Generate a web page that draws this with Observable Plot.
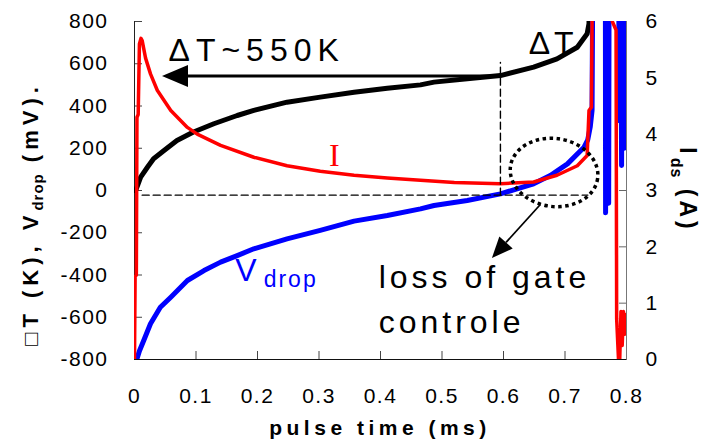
<!DOCTYPE html>
<html><head><meta charset="utf-8">
<script src="https://cdn.jsdelivr.net/npm/d3@7"></script>
<script src="https://cdn.jsdelivr.net/npm/@observablehq/plot@0.6"></script>
<style>
html,body{margin:0;padding:0;background:#fff;}
#chart svg{display:block;}
</style>
</head><body>
<div id="chart"></div>
<script>
// ---- tick labels ----
const xTicks = [0, 0.1, 0.2, 0.3, 0.4, 0.5, 0.6, 0.7, 0.8];
const yLeftTicks = [-800, -600, -400, -200, 0, 200, 400, 600, 800];
const yRightTicks = [0, 1, 2, 3, 4, 5, 6];

// ---- ΔT (K), black ----
const dTTime  = [0.000, 0.002, 0.010, 0.021, 0.031, 0.048, 0.069, 0.095, 0.129, 0.167, 0.194, 0.248, 0.302, 0.357, 0.411, 0.465, 0.487, 0.541, 0.595, 0.649, 0.687, 0.720, 0.736, 0.739, 0.742];
const dTValue = [0, 0, 63, 110, 150, 189, 237, 276, 316, 355, 379, 418, 442, 465, 484, 500, 513, 529, 544, 584, 623, 678, 742, 789, 1500];

// ---- I_ds (A), red, right axis ----
const iTime  = [0.000, 0.001, 0.003, 0.004, 0.006, 0.008, 0.0105, 0.0125, 0.018, 0.026, 0.037, 0.059, 0.086, 0.102, 0.140, 0.194, 0.248, 0.302, 0.357, 0.411, 0.465, 0.520, 0.595, 0.649, 0.687, 0.720, 0.736, 0.739, 0.743, 0.744, 0.745, 0.776, 0.777, 0.783, 0.784, 0.787, 0.789, 0.791, 0.793, 0.795, 0.797, 0.799, 0.800];
const iValue = [0.00, 1.47, 1.50, 4.30, 4.35, 5.60, 5.70, 5.66, 5.35, 5.07, 4.78, 4.42, 4.12, 4.00, 3.80, 3.59, 3.44, 3.34, 3.27, 3.22, 3.18, 3.14, 3.12, 3.15, 3.27, 3.44, 3.62, 4.42, 4.48, 6.00, 8.00, 8.00, 6.00, 5.85, 0.72, 0.00, 0.00, 0.85, 0.25, 0.85, 0.45, 0.80, 0.55];

// ---- V_drop (mV), blue ----
const vTime  = [0.000, 0.004, 0.008, 0.015, 0.026, 0.042, 0.059, 0.086, 0.113, 0.140, 0.167, 0.194, 0.248, 0.302, 0.357, 0.411, 0.465, 0.487, 0.541, 0.595, 0.622, 0.649, 0.676, 0.704, 0.731, 0.737, 0.741, 0.744, 0.746, 0.7655, 0.766, 0.7675, 0.768, 0.7695, 0.771, 0.772, 0.787, 0.788, 0.790, 0.792, 0.794, 0.796, 0.798];
const vValue = [-800, -797, -760, -710, -631, -553, -505, -426, -379, -339, -308, -276, -229, -189, -145, -118, -87, -71, -47, -16, 8, 32, 71, 126, 205, 240, 300, 379, 1500, 1500, -105, 1500, -30, 1500, -60, 1500, 1500, 330, 1500, 118, 1500, 200, 1500];

// ---- annotation anchors (data coordinates) ----
const zeroDashX = [0.0125, 0.737];       // horizontal dashed line, y = zeroDashY
const zeroDashY = -22;
const markDashX = 0.595;                 // vertical dashed line
const markDashY = [-22, 606];
const arrow550 = {x1: 0.595, y1: 540, x2: 0.0455, y2: 540};
const arrowGate = {x1: 0.660, y1: -71, x2: 0.582, y2: -322};
const gateEllipse = {x: 0.683, y: 83};

const annoText = ["\u0394T~550K", "\u0394T", "I", "V", "drop", "loss of gate", "controle"];
const annoX    = [0.0553, 0.641, 0.325, 0.164, 0.210, 0.397, 0.397];
const annoY    = [663, 696, 166, -378, -420, -411, -624];
const annoSpacing = [6, 4, 0, 0, 2, 4, 4];

// ---- scale helpers ----
const Y_MIN = -800, Y_MAX = 800, I_MAX = 6;
const ampToLeft = a => Y_MIN + a * (Y_MAX - Y_MIN) / I_MAX;
const leftToAmp = v => Math.round((v - Y_MIN) * I_MAX / (Y_MAX - Y_MIN));

const dT = dTTime.map((t, i) => ({t, v: dTValue[i]}));
const cur = iTime.map((t, i) => ({t, v: ampToLeft(iValue[i])}));
const vd = vTime.map((t, i) => ({t, v: vValue[i]}));

function arrowMark(a, {stroke = "black", width = 2, headLen = 20, headHalf = 8} = {}) {
  return (index, scales) => {
    const x1 = scales.x(a.x1), y1 = scales.y(a.y1), x2 = scales.x(a.x2), y2 = scales.y(a.y2);
    const ang = Math.atan2(y2 - y1, x2 - x1);
    const bx = x2 - headLen * Math.cos(ang), by = y2 - headLen * Math.sin(ang);
    const px = -Math.sin(ang), py = Math.cos(ang);
    const g = d3.create("svg:g");
    g.append("line").attr("x1", x1).attr("y1", y1).attr("x2", bx).attr("y2", by)
      .attr("stroke", stroke).attr("stroke-width", width);
    g.append("polygon")
      .attr("points", `${x2},${y2} ${bx + px * headHalf},${by + py * headHalf} ${bx - px * headHalf},${by - py * headHalf}`)
      .attr("fill", stroke);
    return g.node();
  };
}
function ellipseMark(c, rx, ry, rot) {
  return (index, scales) => {
    const cx = scales.x(c.x), cy = scales.y(c.y);
    return d3.create("svg:ellipse")
      .attr("cx", cx).attr("cy", cy).attr("rx", rx).attr("ry", ry)
      .attr("transform", `rotate(${rot},${cx},${cy})`)
      .attr("fill", "none").attr("stroke", "black").attr("stroke-width", 3.5)
      .attr("stroke-dasharray", "3.5,3.5").node();
  };
}

const sans = "'Liberation Sans', Arial, Helvetica, sans-serif";
const txt = (i, opts) => Plot.text([0], {x: () => annoX[i], y: () => annoY[i], text: () => annoText[i], lineAnchor: "middle", fontFamily: sans, ...opts});

const chart = Plot.plot({
  width: 704, height: 441,
  marginLeft: 134, marginRight: 78, marginTop: 21, marginBottom: 82,
  style: {fontFamily: sans, fontSize: "21px", color: "black", background: "white", letterSpacing: "1.5px"},
  x: {domain: [0, 0.8]},
  y: {domain: [Y_MIN, Y_MAX]},
  marks: [
    Plot.axisX({ticks: xTicks, tickSize: -8, tickPadding: 37, label: null, tickFormat: d => String(d), stroke: "#444"}),
    Plot.axisY({anchor: "left", ticks: yLeftTicks, tickSize: -8, tickPadding: 34, label: null, tickFormat: d => String(d), stroke: "#444"}),
    Plot.axisY({anchor: "right", ticks: yRightTicks.map(ampToLeft), tickSize: -8, tickPadding: 27, label: null, tickFormat: d => String(leftToAmp(d)), stroke: "#666"}),
    Plot.ruleX([0], {stroke: "#222"}),
    Plot.ruleX([0.8], {stroke: "#777"}),
    Plot.ruleY([Y_MIN], {stroke: "#111", strokeWidth: 1.2}),
    Plot.line(dT, {x: "t", y: "v", stroke: "black", strokeWidth: 5, clip: true}),
    Plot.line(vd, {x: "t", y: "v", stroke: "#0000ff", strokeWidth: 5, clip: true}),
    Plot.line(cur, {x: "t", y: "v", stroke: "#ff0000", strokeWidth: 3.5, clip: true}),
    Plot.line(zeroDashX.map(x => ({x, y: zeroDashY})), {x: "x", y: "y", stroke: "black", strokeWidth: 1.4, strokeDasharray: "7,4"}),
    Plot.line(markDashY.map(y => ({x: markDashX, y})), {x: "x", y: "y", stroke: "black", strokeWidth: 1.4, strokeDasharray: "7,4"}),
    arrowMark(arrow550, {width: 3, headLen: 26, headHalf: 11}),
    arrowMark(arrowGate, {width: 1.8, headLen: 21, headHalf: 9}),
    ellipseMark(gateEllipse, 44, 34, 8),
    txt(0, {textAnchor: "start", fontSize: 32, fill: "black"}),
    txt(1, {textAnchor: "start", fontSize: 32, fill: "black"}),
    txt(2, {textAnchor: "middle", fontSize: 32, fill: "#ff0000", fontFamily: "'Liberation Serif', 'Times New Roman', serif"}),
    txt(3, {textAnchor: "start", fontSize: 32, fill: "#0000ff"}),
    txt(4, {textAnchor: "start", fontSize: 23, fill: "#0000ff"}),
    txt(5, {textAnchor: "start", fontSize: 32, fill: "black"}),
    txt(6, {textAnchor: "start", fontSize: 32, fill: "black"})
  ]
});
document.getElementById("chart").appendChild(chart);

const svg = d3.select(chart);
svg.selectAll("text").each(function() {
  const i = annoText.indexOf(this.textContent);
  if (i >= 0) this.style.letterSpacing = annoSpacing[i] + "px";
});

// axis titles (with subscripts)
svg.append("text").attr("x", 380).attr("y", 435).attr("text-anchor", "middle")
  .attr("font-weight", "bold").attr("font-size", 21).style("letter-spacing", "4.5px").text("pulse time (ms)");
const lt = svg.append("text").attr("transform", "translate(38,214) rotate(-90)").attr("text-anchor", "middle")
  .attr("font-weight", "bold").attr("font-size", 22).style("letter-spacing", "5px");
lt.append("tspan").text("\u25A1T (K), V");
lt.append("tspan").attr("font-size", 15).attr("dy", 5).style("letter-spacing", "1px").text("drop");
lt.append("tspan").attr("dy", -5).text(" (mV).");
const rt = svg.append("text").attr("transform", "translate(680,190) rotate(90)").attr("text-anchor", "middle")
  .attr("font-weight", "bold").attr("font-size", 23).style("letter-spacing", "4px");
rt.append("tspan").text("I");
rt.append("tspan").attr("font-size", 16).attr("dy", 9).style("letter-spacing", "1px").text("ds");
rt.append("tspan").attr("dy", -9).text(" (A)");
</script>
</body></html>
